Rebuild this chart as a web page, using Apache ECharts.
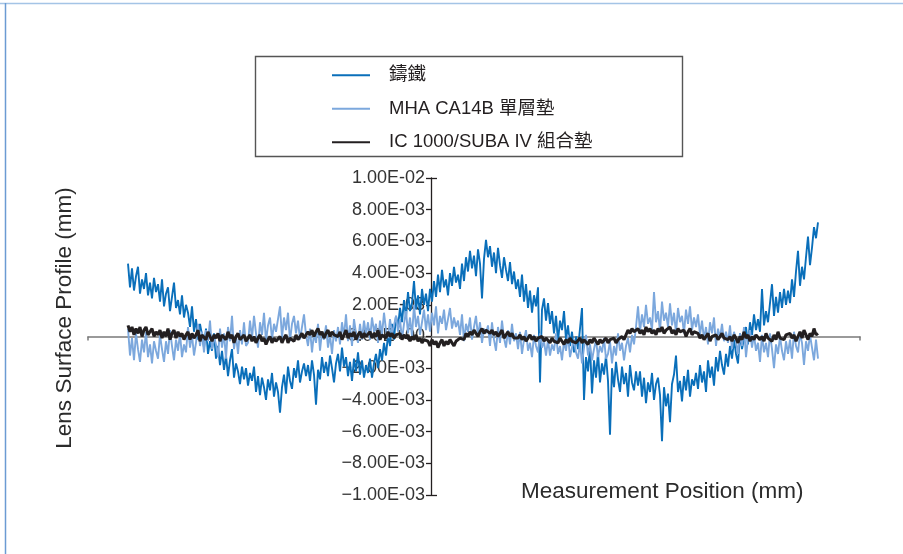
<!DOCTYPE html>
<html>
<head>
<meta charset="utf-8">
<title>Lens Surface Profile</title>
<script src="https://cdn.jsdelivr.net/npm/echarts@6/dist/echarts.min.js"></script>
<style>
  html, body { margin: 0; padding: 0; background: #ffffff; }
  #chart { width: 903px; height: 554px; }
</style>
</head>
<body>
<div id="chart"></div>
<script>
// Series names shown in the legend
const seriesNames = ['鑄鐵', 'MHA CA14B 單層墊', 'IC 1000/SUBA IV 組合墊'];

// Sampling grid of the profile scan (mm)
const firstPosition = 0;
const sampleSpacing = 0.1;

// Profile heights, in units of 1E-03 mm, one value per sample
const castIron = [
  4.6, 3.1, 4.3, 2.9, 3.8, 4.4, 2.7, 3.6, 3.0, 4.0, 2.6, 3.4, 2.4, 3.7, 2.8,
  3.3, 2.2, 3.6, 1.9, 2.7, 3.1, 1.6, 2.5, 3.4, 1.8, 2.3, 1.4, 2.6, 1.2, 2.0,
  1.5, 0.6, 1.9, 0.3, 1.1, -0.2, 0.8, 0.1, -0.7, 0.5, -1.1, -0.3, -0.9, 0.2, -1.4,
  -0.6, -1.8, -0.9, -2.1, -1.2, -2.5, -1.5, -0.8, -2.6, -1.7, -2.2, -3.0, -1.9, -2.7, -2.0,
  -3.1, -2.3, -2.8, -1.9, -3.5, -2.5, -3.7, -2.6, -3.2, -4.0, -2.7, -3.4, -2.3, -3.8, -2.9,
  -3.5, -4.8, -3.2, -2.4, -3.6, -1.9, -2.8, -3.3, -2.0, -2.6, -1.5, -2.9, -2.2, -1.7, -2.5,
  -1.8, -2.8, -1.5, -2.4, -4.3, -2.1, -2.7, -1.3, -2.3, -1.6, -2.5, -1.2, -2.0, -2.9, -1.7,
  -1.1, -2.2, -0.7, -1.9, -1.3, -2.5, -1.6, -2.8, -1.4, -2.2, -1.0, -2.4, -1.5, -2.6, -1.8,
  -2.3, -1.4, -2.6, -1.7, -1.1, -2.0, -0.8, -1.5, -0.4, -1.2, 0.1, -0.6, 0.8, -0.2, 1.3,
  0.6, 1.8, 0.9, 2.3, 1.2, 2.8, 1.6, 2.1, 3.5, 1.7, 2.6, 1.4, 3.0, 2.0, 2.7,
  1.6, 3.0, 2.2, 3.5, 2.5, 3.9, 2.8, 4.2, 3.1, 3.6, 2.6, 4.0, 3.2, 4.4, 3.4,
  3.9, 3.0, 4.6, 3.5, 5.0, 4.1, 5.4, 4.3, 5.1, 3.8, 5.5, 4.6, 2.4, 4.9, 6.1,
  5.0, 5.7, 4.4, 5.3, 4.0, 5.6, 4.5, 3.7, 5.0, 4.2, 3.5, 4.7, 3.3, 4.1, 3.0,
  3.6, 2.5, 3.9, 2.2, 3.3, 1.8, 2.9, 1.5, 2.6, 1.9, 3.1, -2.9, 1.7, 2.4, 1.0,
  2.1, 0.8, 1.6, 0.2, 1.3, -0.3, 1.0, 0.4, 1.6, -0.2, 0.7, -0.6, 0.3, -1.0, 0.0,
  -0.8, 0.5, 1.8, -4.0, -1.3, -2.2, -0.6, -3.6, -1.5, -2.6, -1.0, -2.9, -1.7, -2.4, -1.2,
  -2.8, -6.2, -2.0, -3.2, -1.6, -2.7, -3.5, -1.9, -3.0, -2.3, -3.8, -1.8, -2.9, -3.4, -2.2,
  -3.1, -2.2, -3.8, -2.6, -4.2, -2.9, -3.5, -2.3, -4.0, -3.0, -2.6, -3.7, -6.6, -3.2, -4.4,
  -3.6, -5.4, -3.0, -2.4, -1.2, -3.5, -2.8, -4.1, -2.5, -3.4, -2.1, -3.8, -2.7, -3.1, -2.3,
  -3.3, -1.8, -2.9, -2.2, -3.5, -1.5, -2.6, -1.9, -3.1, -1.3, -2.2, -0.9, -1.8, -2.4, -1.1,
  -1.9, -0.6, -1.4, -0.2, -1.1, -1.7, 0.2, -0.8, -0.1, 0.6, -0.5, 0.9, 0.1, 1.4, 0.4,
  1.1, 0.3, 3.0, 0.7, 1.6, 0.9, 2.1, 3.3, 1.3, 2.5, 1.5, 2.8, 1.8, 3.0, 2.0,
  2.9, 2.1, 3.6, 2.5, 4.1, 5.4, 3.2, 4.4, 3.6, 5.0, 6.3, 4.5, 5.6, 6.9, 6.2,
  7.2
];

const mhaCA14B = [
  0.5, -1.2, -0.1, -1.5, 0.2, -0.8, -1.6, -0.2, -1.0, 0.3, -1.3, -0.5, -1.7, -0.3, -0.9,
  -1.4, 0.1, -0.8, -1.6, -0.3, -1.1, 0.4, -0.6, -1.5, -0.2, -0.9, 0.2, -1.3, -0.5, -1.0,
  0.6, -0.7, 0.1, -1.2, -0.4, 0.8, -0.6, 0.3, -1.0, 0.4, -0.3, 1.0, -0.8, 0.0, -0.5,
  -1.3, 0.5, -0.7, 0.2, -1.4, 0.6, -0.3, 1.3, -0.8, 0.1, -1.1, 0.4, -0.5, 0.9, -0.6,
  -0.4, 1.0, -0.1, 1.3, 0.2, -0.7, 0.9, 0.1, 1.5, -0.3, 0.7, 1.2, -0.2, 0.8, 0.3,
  1.1, 1.9, -0.1, 1.2, 0.4, 1.5, -0.3, 0.8, 1.3, 0.2, 1.0, -0.2, 0.6, 1.4, 0.1,
  -0.6, 0.5, -1.0, 0.2, -0.4, 0.8, -0.9, 0.3, -0.2, 0.7, -0.7, 0.1, -1.1, 0.4, -0.3,
  0.6, -0.5, 0.9, 0.0, 1.4, -0.3, 0.7, -0.6, 1.1, 0.2, -0.4, 0.8, -0.2, 1.0, 0.1,
  0.9, -0.2, 1.2, 0.3, 0.8, -0.4, 1.0, 0.1, 1.5, 0.4, -0.1, 1.1, 0.2, 0.7, 1.3,
  0.3, 1.1, -0.2, 0.8, 1.6, 0.2, 1.2, 0.0, 2.0, 0.6, 1.3, 0.1, 0.9, 1.7, 0.4,
  1.4, 0.3, 1.5, 0.7, 1.9, 0.2, 1.3, 0.8, 1.7, 0.4, 1.1, 1.8, 0.5, 1.2, 0.6,
  1.0, 0.1, 1.4, -0.3, 0.8, 0.3, 1.2, -0.2, 0.6, 1.3, 0.0, 0.9, -0.4, 0.5, 0.2,
  0.7, -0.6, 0.9, -0.2, -0.9, 0.6, -0.4, 1.0, -0.1, -0.7, 0.4, -0.5, 0.8, -0.3, 0.2,
  -0.8, 0.3, -1.1, -0.2, 0.4, -0.9, -0.4, -1.3, 0.1, -0.6, -1.0, 0.2, -0.7, -0.3, -1.2,
  -0.2, -1.2, -0.5, -0.9, 0.2, -1.1, -0.6, -1.5, -0.3, -0.9, 0.1, -1.3, -0.7, -0.2, -1.0,
  -1.4, -0.4, -1.7, -0.7, 0.1, -1.2, -0.5, -1.5, -0.8, -0.2, -1.3, -0.6, -1.0, -0.1, -1.4,
  -1.1, -0.3, -1.7, -0.6, -1.2, 0.2, -0.9, -0.4, -1.5, -0.6, -0.1, -1.0, 0.1, -0.5, 0.6,
  1.9, 0.3, 1.4, 0.6, 2.0, 0.8, 1.2, 0.4, 2.8, 0.9, 1.6, 0.3, 2.2, 1.0, 1.5,
  0.6, 2.1, 0.7, 1.5, 0.2, 1.8, 0.9, 1.3, 0.2, 1.7, 0.8, 1.9, 0.4, 1.2, 0.6,
  1.4, 0.1, 1.0, -0.2, 0.6, -0.5, 0.9, 0.2, 1.2, -0.6, 0.5, -0.1, 0.8, -0.3, 0.3,
  -0.4, 0.7, -0.8, 0.3, -0.3, -1.1, 0.2, -0.6, 0.6, -1.3, -0.1, 0.4, -0.7, 0.1, -0.9,
  -0.4, -1.6, 0.1, -1.0, -0.4, -1.3, 0.2, -0.8, -2.0, -0.5, -1.1, 0.0, -0.9, -1.5, -0.3,
  -1.1, -0.2, -1.4, 0.3, -0.6, -1.0, 0.2, -0.4, -1.8, -0.3, -0.9, 0.1, -0.7, -1.5, -0.2,
  -1.4
];

const icSuba = [
  0.7, 0.3, 0.6, 0.1, 0.5, 0.2, 0.6, 0.0, 0.4, 0.6, 0.1, 0.3, 0.5, 0.0, 0.3,
  0.1, 0.4, -0.1, 0.3, 0.0, 0.5, -0.2, 0.2, 0.4, -0.1, 0.3, 0.0, 0.2, -0.2, 0.1,
  0.3, -0.2, 0.2, -0.1, 0.1, 0.4, -0.3, 0.1, 0.2, -0.2, 0.3, 0.0, -0.3, 0.1, -0.1,
  0.2, -0.3, 0.1, 0.0, -0.2, 0.3, -0.1, 0.1, -0.4, 0.0, 0.2, -0.2, -0.1, 0.1, -0.3,
  -0.1, 0.1, -0.3, 0.0, -0.4, -0.1, 0.1, -0.3, -0.1, -0.5, -0.2, 0.0, -0.4, -0.1, -0.3,
  -0.2, 0.0, -0.4, -0.1, 0.1, -0.4, -0.1, 0.0, -0.3, 0.1, -0.2, 0.0, 0.2, -0.1, 0.1,
  0.3, 0.1, 0.4, 0.0, 0.3, 0.5, 0.1, 0.3, -0.1, 0.2, 0.4, 0.0, 0.3, 0.1, 0.2,
  0.0, 0.3, -0.2, 0.1, 0.4, -0.1, 0.2, 0.0, 0.3, -0.2, 0.1, 0.3, -0.1, 0.2, 0.0,
  0.1, 0.3, -0.1, 0.2, 0.0, 0.4, -0.2, 0.1, 0.2, -0.1, 0.3, 0.0, 0.2, -0.1, 0.1,
  0.0, 0.2, -0.2, 0.1, -0.1, 0.1, -0.3, 0.0, -0.2, 0.1, -0.3, -0.1, -0.4, -0.2, -0.3,
  -0.3, -0.6, -0.2, -0.5, -0.3, -0.7, -0.4, -0.2, -0.6, -0.3, -0.5, -0.2, -0.4, -0.6, -0.3,
  -0.4, -0.1, 0.0, -0.2, 0.2, 0.0, 0.3, 0.1, 0.4, 0.2, 0.0, 0.3, 0.5, 0.2, 0.4,
  0.5, 0.2, 0.4, 0.1, 0.3, 0.0, 0.2, 0.4, -0.1, 0.1, 0.3, 0.0, 0.2, -0.1, 0.0,
  -0.1, 0.1, -0.2, 0.0, -0.3, -0.1, 0.1, -0.2, 0.0, -0.3, -0.1, -0.2, 0.0, -0.3, -0.1,
  -0.2, -0.4, -0.1, -0.3, -0.2, -0.4, -0.1, -0.3, -0.5, -0.2, -0.4, -0.1, -0.3, -0.2, -0.4,
  -0.3, -0.1, -0.4, -0.2, -0.3, -0.5, -0.2, -0.4, -0.1, -0.3, -0.5, -0.2, -0.4, -0.3, -0.1,
  -0.4, -0.2, -0.3, -0.1, -0.4, -0.2, -0.3, 0.0, -0.2, 0.1, 0.4, 0.2, 0.5, 0.3, 0.2,
  0.5, 0.2, 0.4, 0.1, 0.6, 0.3, 0.5, 0.2, 0.4, 0.1, 0.5, 0.3, 0.6, 0.2, 0.4,
  0.3, 0.6, 0.2, 0.4, 0.1, 0.5, 0.3, 0.2, 0.4, 0.0, 0.3, 0.5, 0.1, 0.3, 0.2,
  0.2, -0.1, 0.1, -0.2, 0.0, 0.2, -0.3, 0.0, -0.1, 0.1, -0.2, 0.0, 0.2, -0.1, 0.0,
  -0.2, 0.0, -0.3, 0.1, -0.1, -0.4, 0.0, -0.2, 0.3, -0.1, 0.1, -0.3, 0.0, -0.2, 0.1,
  0.1, -0.2, 0.0, -0.3, 0.2, -0.1, 0.0, -0.3, 0.1, -0.2, 0.3, -0.1, 0.0, -0.2, 0.1,
  0.0, 0.2, -0.1, 0.1, -0.3, 0.0, 0.3, -0.1, 0.4, 0.1, -0.2, 0.2, 0.0, 0.5, 0.1,
  0.2
];

// Y-axis tick labels, bottom to top (bottom one printed as in the source figure)
const yTickLabels = [
  '\u22121.00E-03', '\u22128.00E-03', '\u22126.00E-03', '\u22124.00E-03', '\u22122.00E-03',
  '0.00E+00', '2.00E-03', '4.00E-03', '6.00E-03', '8.00E-03', '1.00E-02'
];

// Axis extents
const xMin = -2.0, xMax = 36.6;
const yMin = -10, yMax = 10, yStep = 2;

const seriesColors = ['#0a6fba', '#7ca8dd', '#231f20'];
const seriesWidths = [1.9, 1.9, 3.0];
const FONT = "'Liberation Sans', Arial, 'Noto Sans CJK TC', sans-serif";

function toPairs(values) {
  return values.map((v, i) => [firstPosition + i * sampleSpacing, v]);
}

const chart = echarts.init(document.getElementById('chart'), null, { renderer: 'canvas' });

chart.setOption({
  animation: false,
  backgroundColor: '#ffffff',
  grid: [
    // plotting area
    { left: 88, right: 43, top: 178, bottom: 59, containLabel: false },
    // narrow strip holding the labelled vertical axis
    { left: 431, width: 20, top: 178, bottom: 59, containLabel: false }
  ],
  xAxis: [
    {
      type: 'value',
      gridIndex: 0,
      min: xMin,
      max: xMax,
      axisLine: { show: true, onZero: true, lineStyle: { color: '#7a7a7a', width: 1.5 } },
      axisTick: { show: true, length: 4, customValues: [xMin, xMax], lineStyle: { color: '#7a7a7a', width: 1.5 } },
      axisLabel: { show: false },
      splitLine: { show: false }
    },
    { type: 'value', gridIndex: 1, min: 0, max: 1, show: false }
  ],
  yAxis: [
    { type: 'value', gridIndex: 0, min: yMin, max: yMax, show: false },
    {
      type: 'value',
      gridIndex: 1,
      position: 'left',
      min: yMin,
      max: yMax,
      interval: yStep,
      axisLine: { show: true, onZero: false, lineStyle: { color: '#231f20', width: 1.3 } },
      axisTick: { show: true, length: 5, lineStyle: { color: '#231f20', width: 1.3 } },
      axisLabel: {
        margin: 6,
        fontFamily: FONT,
        fontSize: 18,
        color: '#333333',
        formatter: (v) => yTickLabels[Math.round((v - yMin) / yStep)]
      },
      splitLine: { show: false }
    },
    {
      type: 'value',
      gridIndex: 1,
      position: 'left',
      min: yMin,
      max: yMax,
      interval: yMax - yMin,
      axisLine: { show: false, onZero: false },
      axisTick: { show: true, inside: true, length: 6, lineStyle: { color: '#231f20', width: 1.3 } },
      axisLabel: { show: false },
      splitLine: { show: false }
    }
  ],
  legend: {
    orient: 'vertical',
    left: 332,
    top: 66,
    padding: 0,
    itemGap: 15,
    itemWidth: 38,
    itemHeight: 2,
    icon: 'rect',
    selectedMode: false,
    textStyle: {
      fontFamily: FONT,
      fontSize: 18.5,
      lineHeight: 18,
      color: '#231f20',
      padding: [0, 0, 0, 14]
    },
    data: seriesNames
  },
  series: [castIron, mhaCA14B, icSuba].map((values, k) => ({
    name: seriesNames[k],
    type: 'line',
    xAxisIndex: 0,
    yAxisIndex: 0,
    showSymbol: false,
    symbol: 'none',
    color: seriesColors[k],
    lineStyle: { color: seriesColors[k], width: seriesWidths[k] },
    data: toPairs(values),
    z: 2 + k
  })),
  graphic: [
    // page frame
    { type: 'line', shape: { x1: 0, y1: 3.5, x2: 903, y2: 3.5 }, style: { stroke: '#a4c4e6', lineWidth: 1.5 }, silent: true },
    { type: 'line', shape: { x1: 5.5, y1: 3, x2: 5.5, y2: 554 }, style: { stroke: '#6b9bd3', lineWidth: 1.5 }, silent: true },
    // legend box
    { type: 'rect', shape: { x: 255.5, y: 56.5, width: 427, height: 100 }, style: { fill: 'none', stroke: '#555555', lineWidth: 1.4 }, silent: true, z: -1 },
    // axis titles
    {
      type: 'text', x: 521, y: 492,
      style: { text: 'Measurement Position (mm)', font: "22.5px " + FONT, fill: '#2b2b2b', textAlign: 'left', textVerticalAlign: 'middle' },
      silent: true
    },
    {
      type: 'text', x: 65, y: 318, rotation: Math.PI / 2,
      style: { text: 'Lens Surface Profile (mm)', font: "22.5px " + FONT, fill: '#2b2b2b', textAlign: 'center', textVerticalAlign: 'middle' },
      silent: true
    }
  ]
});
</script>
</body>
</html>
